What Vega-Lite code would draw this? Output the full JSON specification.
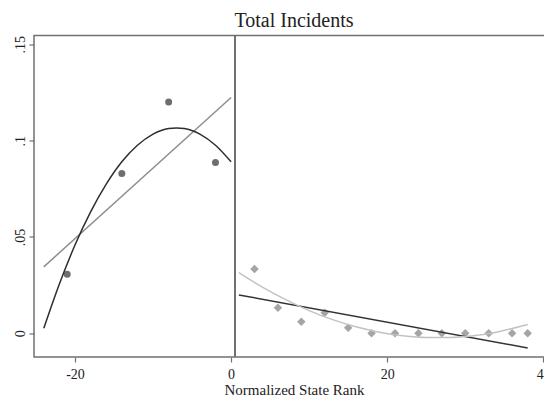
{
  "$schema": "https://vega.github.io/schema/vega-lite/v6.json",
  "autosize": {"type": "none"},
  "padding": {"left": 34, "top": 35.5, "right": -10, "bottom": 44},
  "width": 520,
  "height": 321.5,
  "background": "white",
  "config": {
    "view": {"stroke": "#707070", "strokeWidth": 1.5},
    "axis": {
      "grid": false, "domain": false, "ticks": true, "tickSize": 5, "tickColor": "#707070", "tickWidth": 1.2,
      "labelFont": "Liberation Serif", "labelFontSize": 14, "labelColor": "#222222",
      "titleFont": "Liberation Serif", "titleFontSize": 15, "titleFontWeight": "normal", "titleColor": "#222222"
    }
  },
  "title": {"text": "Total Incidents", "font": "Liberation Serif", "fontSize": 20, "fontWeight": "normal", "color": "#222222", "anchor": "middle", "offset": 4},
  "datasets": {
    "cutoff": [{"x": 0.5}],
    "bins": [
      {"side": "left", "x": -21, "y": 0.0306},
      {"side": "left", "x": -14, "y": 0.0829},
      {"side": "left", "x": -8, "y": 0.1200},
      {"side": "left", "x": -2, "y": 0.0886},
      {"side": "right", "x": 3, "y": 0.0334},
      {"side": "right", "x": 6, "y": 0.0133},
      {"side": "right", "x": 9, "y": 0.0060},
      {"side": "right", "x": 12, "y": 0.0107},
      {"side": "right", "x": 15, "y": 0.0029},
      {"side": "right", "x": 18, "y": 0.0},
      {"side": "right", "x": 21, "y": 0.0},
      {"side": "right", "x": 24, "y": 0.0},
      {"side": "right", "x": 27, "y": 0.0},
      {"side": "right", "x": 30, "y": 0.0},
      {"side": "right", "x": 33, "y": 0.0},
      {"side": "right", "x": 36, "y": 0.0},
      {"side": "right", "x": 38, "y": 0.0}
    ],
    "fits": [
      {"fit": "leftLinear", "x": -24, "y": 0.0345},
      {"fit": "leftLinear", "x": 0, "y": 0.1224},
      {"fit": "leftQuad", "x": -24, "y": 0.0026},
      {"fit": "leftQuad", "x": -22, "y": 0.0256},
      {"fit": "leftQuad", "x": -20, "y": 0.0458},
      {"fit": "leftQuad", "x": -18, "y": 0.0630},
      {"fit": "leftQuad", "x": -16, "y": 0.0774},
      {"fit": "leftQuad", "x": -14, "y": 0.0890},
      {"fit": "leftQuad", "x": -12, "y": 0.0976},
      {"fit": "leftQuad", "x": -10, "y": 0.1034},
      {"fit": "leftQuad", "x": -8, "y": 0.1063},
      {"fit": "leftQuad", "x": -7, "y": 0.1066},
      {"fit": "leftQuad", "x": -6, "y": 0.1063},
      {"fit": "leftQuad", "x": -4, "y": 0.1034},
      {"fit": "leftQuad", "x": -2, "y": 0.0976},
      {"fit": "leftQuad", "x": 0, "y": 0.0890},
      {"fit": "rightLinear", "x": 1, "y": 0.0199},
      {"fit": "rightLinear", "x": 38, "y": -0.0076},
      {"fit": "rightQuad", "x": 1, "y": 0.0315},
      {"fit": "rightQuad", "x": 4, "y": 0.0240},
      {"fit": "rightQuad", "x": 7, "y": 0.0175},
      {"fit": "rightQuad", "x": 10, "y": 0.0118},
      {"fit": "rightQuad", "x": 13, "y": 0.0071},
      {"fit": "rightQuad", "x": 16, "y": 0.0034},
      {"fit": "rightQuad", "x": 19, "y": 0.0006},
      {"fit": "rightQuad", "x": 22, "y": -0.0013},
      {"fit": "rightQuad", "x": 25, "y": -0.0022},
      {"fit": "rightQuad", "x": 28, "y": -0.0022},
      {"fit": "rightQuad", "x": 31, "y": -0.0013},
      {"fit": "rightQuad", "x": 34, "y": 0.0006},
      {"fit": "rightQuad", "x": 37, "y": 0.0035},
      {"fit": "rightQuad", "x": 38, "y": 0.0046}
    ]
  },
  "layer": [
    {
      "data": {"name": "bins"},
      "transform": [{"filter": "datum.side == 'left'"}],
      "mark": {"type": "point", "shape": "circle", "filled": true, "opacity": 1, "color": "#6e6e6e", "size": 49},
      "encoding": {
        "x": {"field": "x", "type": "quantitative", "scale": {"domain": [-25.253, 41.371], "nice": false, "zero": false},
          "axis": {"values": [-20, 0, 20, 40], "labelExpr": "'' + datum.value", "labelBaseline": "alphabetic", "labelPadding": 16.5, "title": "Normalized State Rank", "titleBaseline": "alphabetic", "titleY": 37.5}},
        "y": {"field": "y", "type": "quantitative", "scale": {"domain": [-0.0123, 0.15457], "nice": false, "zero": false},
          "axis": {"values": [0, 0.05, 0.1, 0.15], "labelExpr": "datum.value == 0 ? '0' : replace(format(datum.value, '.2~f'), '0.', '.')", "labelAngle": 270, "labelAlign": "center", "labelBaseline": "alphabetic", "labelPadding": 5, "title": null}}
      }
    },
    {
      "data": {"name": "cutoff"},
      "mark": {"type": "rule", "color": "#707070", "strokeWidth": 2},
      "encoding": {
        "x": {"field": "x", "type": "quantitative", "scale": {"domain": [-25.253, 41.371], "nice": false, "zero": false},
          "axis": {"values": [-20, 0, 20, 40], "labelExpr": "'' + datum.value", "labelBaseline": "alphabetic", "labelPadding": 16.5, "title": "Normalized State Rank", "titleBaseline": "alphabetic", "titleY": 37.5}}
      }
    },
    {
      "data": {"name": "bins"},
      "transform": [{"filter": "datum.side == 'right'"}],
      "mark": {"type": "point", "shape": "diamond", "filled": true, "opacity": 1, "color": "#a5a5a5", "size": 72},
      "encoding": {
        "x": {"field": "x", "type": "quantitative", "scale": {"domain": [-25.253, 41.371], "nice": false, "zero": false},
          "axis": {"values": [-20, 0, 20, 40], "labelExpr": "'' + datum.value", "labelBaseline": "alphabetic", "labelPadding": 16.5, "title": "Normalized State Rank", "titleBaseline": "alphabetic", "titleY": 37.5}},
        "y": {"field": "y", "type": "quantitative", "scale": {"domain": [-0.0123, 0.15457], "nice": false, "zero": false},
          "axis": {"values": [0, 0.05, 0.1, 0.15], "labelExpr": "datum.value == 0 ? '0' : replace(format(datum.value, '.2~f'), '0.', '.')", "labelAngle": 270, "labelAlign": "center", "labelBaseline": "alphabetic", "labelPadding": 5, "title": null}}
      }
    },
    {
      "data": {"name": "fits"},
      "mark": {"type": "line", "strokeWidth": 1.5, "interpolate": "monotone"},
      "encoding": {
        "x": {"field": "x", "type": "quantitative", "scale": {"domain": [-25.253, 41.371], "nice": false, "zero": false},
          "axis": {"values": [-20, 0, 20, 40], "labelExpr": "'' + datum.value", "labelBaseline": "alphabetic", "labelPadding": 16.5, "title": "Normalized State Rank", "titleBaseline": "alphabetic", "titleY": 37.5}},
        "y": {"field": "y", "type": "quantitative", "scale": {"domain": [-0.0123, 0.15457], "nice": false, "zero": false},
          "axis": {"values": [0, 0.05, 0.1, 0.15], "labelExpr": "datum.value == 0 ? '0' : replace(format(datum.value, '.2~f'), '0.', '.')", "labelAngle": 270, "labelAlign": "center", "labelBaseline": "alphabetic", "labelPadding": 5, "title": null}},
        "color": {"field": "fit", "type": "nominal", "scale": {"domain": ["leftLinear", "leftQuad", "rightLinear", "rightQuad"], "range": ["#8e8e8e", "#2e2e2e", "#333333", "#c2c2c2"]}, "legend": null}
      }
    }
  ]
}
